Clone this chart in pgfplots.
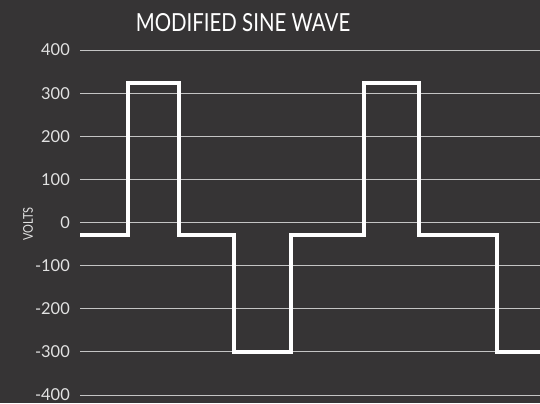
\documentclass[border=0pt]{standalone}
\usepackage{fontspec}
\setmainfont{Lato}
\newfontfamily\condfont[FakeStretch=0.82]{Lato}
\usepackage{pgfplots}
\pgfplotsset{compat=1.18}
\definecolor{bg}{HTML}{363435}
\definecolor{gridc}{HTML}{C4C4C4}
\definecolor{tickc}{HTML}{E2E2E2}

\begin{document}
\begin{tikzpicture}[x=1bp,y=1bp]
\fill[bg] (0,0) rectangle (540,403);
\path[use as bounding box] (0,0) rectangle (540,403);
\begin{axis}[
    at={(80bp,8bp)}, anchor=south west,
    scale only axis,
    width=460bp, height=345bp,
    xmin=80, xmax=540,
    ymin=-400, ymax=400,
    ytick={-400,-300,...,400},
    xtick=\empty,
    ymajorgrids,
    grid style={draw=gridc, line width=1bp},
    axis line style={draw=none},
    major tick length=0pt,
    /pgf/number format/assume math mode=true,
    yticklabel style={font=\fontsize{16.5}{18}\selectfont, text=tickc, inner sep=0pt, xshift=-10bp},
]
\addplot[const plot mark left, draw=white, line width=4bp, line join=miter] coordinates {
    (80,-30) (128,323) (179,-30) (233.5,-300) (291,-30) (364,323) (419,-30) (497,-300) (548,-300)
};
\end{axis}
\node[text=white, font=\condfont\fontsize{25}{28}\selectfont, inner sep=0pt] at (243,380) {MODIFIED SINE WAVE};
\node[text=tickc, font=\condfont\fontsize{13.5}{15}\selectfont, inner sep=0pt, rotate=90] at (28,179) {VOLTS};
\end{tikzpicture}
\end{document}
